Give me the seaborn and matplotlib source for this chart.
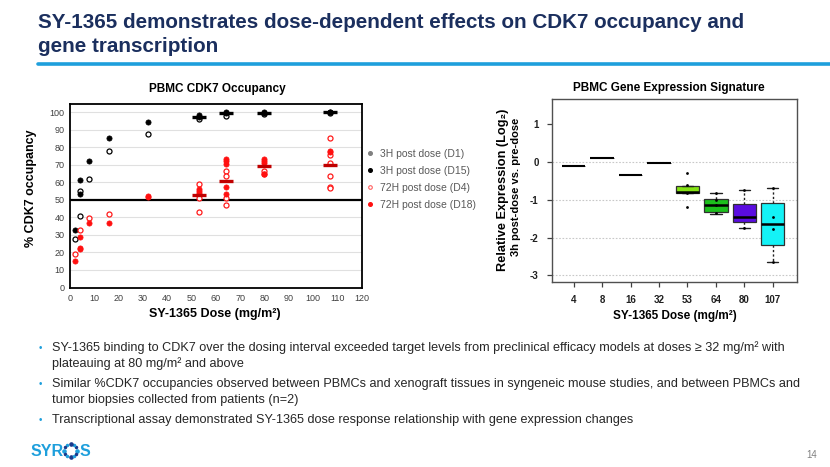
import matplotlib
matplotlib.use("Agg")
import matplotlib.pyplot as plt
import seaborn as sns
import numpy as np
import pandas as pd
from matplotlib.lines import Line2D

# ---------------- data: left panel (PBMC CDK7 occupancy) ----------------
d1_dose = [2, 4, 4, 8, 16, 32, 53, 64, 80, 107]
d1_occ = [27.5, 55, 40.5, 62, 78, 87.5, 96, 98, 99, 99.5]
d15_dose = [2, 4, 4, 8, 16, 32, 53, 53, 64, 64, 80, 80, 107, 107]
d15_occ = [32.5, 61.5, 53.5, 72, 85, 94.7, 98.5, 97.5, 100, 99.5, 100, 99.5, 100, 100]
d4_dose = [2, 4, 8, 16, 53, 53, 53, 64, 64, 64, 64, 80, 80, 107, 107, 107, 107, 107, 107]
d4_occ = [19, 33, 39.3, 41.8, 59, 51, 43, 66.5, 63.5, 51, 47, 66.5, 65, 85.5, 75.5, 71, 63.5, 57.5, 56.5]
d18_dose = [2, 4, 4, 4, 8, 16, 32, 32, 53, 53, 53, 64, 64, 64, 64, 64, 80, 80, 80, 80, 107, 107]
d18_occ = [15.3, 29, 22.5, 21.8, 36.5, 36.5, 52.2, 51.4, 56, 55, 54, 73, 72, 70.5, 57.5, 53.5,
           73.5, 72, 71, 64.5, 78, 77.5]
med_dose = [53, 64, 80, 107]
med_3h = [97.5, 99.5, 99.5, 100]
med_72h = [53, 60.5, 69.5, 69.7]
legend_labels = ["3H post dose (D1)", "3H post dose (D15)", "72H post dose (D4)", "72H post dose (D18)"]

# ---------------- data: right panel (gene expression) ----------------
doses = ["4", "8", "16", "32", "53", "64", "80", "107"]
q1 = [-0.10, 0.10, -0.35, -0.02, -0.81, -1.32, -1.60, -2.20]
med = [-0.10, 0.10, -0.35, -0.02, -0.79, -1.15, -1.45, -1.63]
q3 = [-0.10, 0.10, -0.35, -0.02, -0.63, -0.97, -1.10, -1.08]
wlo = [-0.10, 0.10, -0.35, -0.02, -0.81, -1.38, -1.74, -2.64]
whi = [-0.10, 0.10, -0.35, -0.02, -0.63, -0.82, -0.75, -0.70]
box_colors = ["white", "white", "white", "white", "#84E214", "#1CC01C", "#5A0CE0", "#14F2F6"]
pt_dose = ["53", "53", "53", "53", "64", "64", "64", "64", "80", "80", "107", "107", "107", "107"]
pt_val = [-0.28, -0.60, -0.82, -1.20, -0.82, -1.00, -1.13, -1.36, -0.75, -1.74, -0.70, -1.46, -1.77, -2.64]

bullets = [
    ("SY-1365 binding to CDK7 over the dosing interval exceeded target levels from preclinical efficacy models at doses \u2265 32 mg/m\u00b2 with",
     "plateauing at 80 mg/m\u00b2 and above"),
    ("Similar %CDK7 occupancies observed between PBMCs and xenograft tissues in syngeneic mouse studies, and between PBMCs and",
     "tumor biopsies collected from patients (n=2)"),
    ("Transcriptional assay demonstrated SY-1365 dose response relationship with gene expression changes", None),
]

# ---------------- style ----------------
sns.set_style("white")
plt.rcParams["font.family"] = ["Liberation Sans", "DejaVu Sans"]
W, H = 830, 467
fig = plt.figure(figsize=(8.3, 4.67), dpi=100)

def fx(px):
    return px / W

def fy(py):
    return 1 - py / H

# ---------------- header ----------------
navy = "#1B2F5E"
fig.text(fx(38), fy(23), "SY-1365 demonstrates dose-dependent effects on CDK7 occupancy and",
         fontsize=14.9, fontweight="bold", color=navy, va="center", ha="left")
fig.text(fx(38), fy(47), "gene transcription",
         fontsize=14.9, fontweight="bold", color=navy, va="center", ha="left")
fig.add_artist(Line2D([fx(38), fx(830)], [fy(64), fy(64)], color="#1E9FDC", lw=2.6,
                      transform=fig.transFigure))

# ---------------- left panel ----------------
axL = fig.add_axes([fx(70), fy(288), fx(361.7 - 70), (288 - 104) / H])
axL.set_xlim(0, 120)
axL.set_ylim(-0.4, 104.7)
for y in range(10, 101, 10):
    if y != 50:
        axL.axhline(y, color="#E0E0E0", lw=0.8, zorder=0)
axL.axhline(50, color="black", lw=1.6, zorder=1)

df_d1 = pd.DataFrame({"dose": d1_dose, "occ": d1_occ})
df_d15 = pd.DataFrame({"dose": d15_dose, "occ": d15_occ})
df_d4 = pd.DataFrame({"dose": d4_dose, "occ": d4_occ})
df_d18 = pd.DataFrame({"dose": d18_dose, "occ": d18_occ})

sns.scatterplot(data=df_d1, x="dose", y="occ", ax=axL, s=13, facecolor="white",
                edgecolor="black", linewidth=0.9, zorder=3, legend=False)
sns.scatterplot(data=df_d15, x="dose", y="occ", ax=axL, s=14, color="black",
                edgecolor="black", linewidth=0.5, zorder=3, legend=False)
sns.scatterplot(data=df_d4, x="dose", y="occ", ax=axL, s=13, facecolor="white",
                edgecolor="#FF1A1A", linewidth=0.9, zorder=3, legend=False)
sns.scatterplot(data=df_d18, x="dose", y="occ", ax=axL, s=14, color="#FF1010",
                edgecolor="#FF1010", linewidth=0.5, zorder=3, legend=False)
axL.scatter(med_dose, med_3h, marker="_", s=90, color="black", linewidths=2.4, zorder=4)
axL.scatter(med_dose, med_72h, marker="_", s=90, color="#C00000", linewidths=2.4, zorder=4)

axL.set_xticks(range(0, 121, 10))
axL.set_yticks(range(0, 101, 10))
axL.tick_params(axis="both", length=0, labelsize=6.5, labelcolor="#404040", pad=4)
for s in axL.spines.values():
    s.set_color("black")
    s.set_linewidth(1.3)
axL.set_xlabel("")
axL.set_ylabel("")
fig.text(fx(217), fy(89), "PBMC CDK7 Occupancy", fontsize=8.5, fontweight="bold",
         ha="center", va="center", color="black")
fig.text(fx(215), fy(314), "SY-1365 Dose (mg/m\u00b2)", fontsize=9, fontweight="bold",
         ha="center", va="center", color="black")
fig.text(fx(31), fy(188), "% CDK7 occupancy", fontsize=9, fontweight="bold",
         ha="center", va="center", rotation=90, color="black")

handles = [
    Line2D([], [], ls="", marker="o", ms=2.6, mfc="#808080", mec="#808080"),
    Line2D([], [], ls="", marker="o", ms=2.6, mfc="black", mec="black"),
    Line2D([], [], ls="", marker="o", ms=2.6, mfc="white", mec="#FF6060", mew=0.8),
    Line2D([], [], ls="", marker="o", ms=2.6, mfc="#FF1010", mec="#FF1010"),
]
leg = axL.legend(handles, legend_labels, loc="upper left", bbox_to_anchor=(1.005, 0.78),
                 frameon=False, fontsize=7.5, handlelength=0.6, handletextpad=0.6,
                 labelspacing=0.68, borderaxespad=0)
for t in leg.get_texts():
    t.set_color("#595959")

# ---------------- right panel ----------------
axR = fig.add_axes([fx(551.7), fy(281.7), fx(797.3 - 551.7), (281.7 - 99) / H])
axR.set_xlim(-0.774, 7.865)
axR.set_ylim(-3.17, 1.67)
for y in [0, -1, -2, -3]:
    axR.axhline(y, color="#C8C8C8", lw=0.8, ls=(0, (1.5, 1.5)), zorder=0)

stats = []
for i, d in enumerate(doses):
    stats.append(dict(label=d, q1=q1[i], med=med[i], q3=q3[i], whislo=wlo[i], whishi=whi[i], fliers=[]))
bp = axR.bxp(stats, positions=range(len(doses)), widths=0.82, patch_artist=True,
             showfliers=False, capwidths=0.4,
             boxprops=dict(edgecolor="#303030", linewidth=0.9),
             medianprops=dict(color="black", linewidth=1.8),
             whiskerprops=dict(color="#202020", linewidth=1.0, linestyle=(0, (1.6, 1.6))),
             capprops=dict(color="#202020", linewidth=1.0))
for patch, c in zip(bp["boxes"], box_colors):
    patch.set_facecolor(c)
for i in range(4):
    bp["caps"][2 * i].set_visible(False)
    bp["caps"][2 * i + 1].set_visible(False)
    bp["boxes"][i].set_edgecolor("black")
    bp["boxes"][i].set_linewidth(0.5)
    bp["medians"][i].set_linewidth(1.5)

pos_map = {d: i for i, d in enumerate(doses)}
df_pts = pd.DataFrame({"pos": [pos_map[d] for d in pt_dose], "val": pt_val})
sns.scatterplot(data=df_pts, x="pos", y="val", ax=axR, s=4, color="black",
                edgecolor="black", linewidth=0, zorder=5, legend=False)

axR.set_xticks(range(len(doses)))
axR.set_xticklabels(doses)
axR.set_yticks([1, 0, -1, -2, -3])
axR.set_yticklabels(["1", "0", "-1", "-2", "-3"])
axR.tick_params(axis="x", direction="out", length=3.5, width=0.9, color="#404040",
                labelsize=7, pad=6, bottom=True)
axR.tick_params(axis="y", direction="out", length=3.5, width=0.9, color="#404040",
                labelsize=7, pad=6, left=True)
for t in axR.get_xticklabels() + axR.get_yticklabels():
    t.set_fontweight("bold")
    t.set_color("#202020")
for s in axR.spines.values():
    s.set_color("#505050")
    s.set_linewidth(1.0)
axR.set_xlabel("")
axR.set_ylabel("")
fig.text(fx(669), fy(88), "PBMC Gene Expression Signature", fontsize=8.5, fontweight="bold",
         ha="center", va="center", color="black")
fig.text(fx(675), fy(316), "SY-1365 Dose (mg/m\u00b2)", fontsize=8.5, fontweight="bold",
         ha="center", va="center", color="black")
fig.text(fx(503), fy(190), "Relative Expression (Log\u2082)", fontsize=9.2, fontweight="bold",
         ha="center", va="center", rotation=90, color="black")
fig.text(fx(516), fy(187), "3h post-dose vs. pre-dose", fontsize=8, fontweight="bold",
         ha="center", va="center", rotation=90, color="black")

# ---------------- bullets ----------------
body = "#262626"
ys = [(348, 364), (384, 400), (420, None)]
for (l1, l2), (y1, y2) in zip(bullets, ys):
    fig.text(fx(40), fy(y1), "\u2022", fontsize=7, color="#1E9FDC", ha="center", va="center")
    fig.text(fx(52), fy(y1), l1, fontsize=9.1, color=body, ha="left", va="center")
    if l2:
        fig.text(fx(52), fy(y2), l2, fontsize=9.1, color=body, ha="left", va="center")

# ---------------- logo & page number ----------------
logo_blue = "#1E9FDC"
fig.text(fx(31), fy(451), "SYR", fontsize=11.5, fontweight="bold", color=logo_blue,
         ha="left", va="center")
fig.text(fx(80), fy(451), "S", fontsize=11.5, fontweight="bold", color=logo_blue,
         ha="left", va="center")
ang = np.linspace(0, 2 * np.pi, 12, endpoint=False)
cx, cy, r = 70.5, 450.5, 6.2
for k, a in enumerate(ang):
    fig.add_artist(Line2D([fx(cx + r * np.cos(a))], [fy(cy - r * np.sin(a))], ls="",
                          marker="o", ms=1.5 + 0.8 * ((k % 3) == 0),
                          color=("#1B3A8C" if k % 2 else logo_blue),
                          transform=fig.transFigure))
fig.text(fx(812), fy(455), "14", fontsize=7, color="#808080", ha="center", va="center")

fig.savefig("out.png", dpi=100)
